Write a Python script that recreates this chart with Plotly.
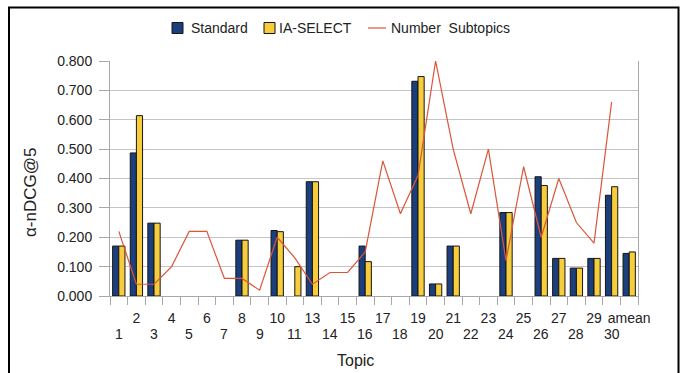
import plotly.graph_objects as go

# ---- data ----
topics = ["1", "2", "3", "4", "5", "6", "7", "8", "9", "10", "11", "13", "14", "15",
          "16", "17", "18", "19", "20", "21", "22", "23", "24", "25", "26", "27",
          "28", "29", "30", "amean"]
standard = [0.170, 0.487, 0.248, None, None, None, None, 0.190, None, 0.223, None,
            0.389, None, None, 0.170, None, None, 0.731, 0.041, 0.170, None, None,
            0.284, None, 0.406, 0.128, 0.095, 0.128, 0.343, 0.145]
ia_select = [0.170, 0.614, 0.248, None, None, None, None, 0.190, None, 0.219, 0.100,
             0.389, None, None, 0.117, None, None, 0.747, 0.041, 0.170, None, None,
             0.284, None, 0.376, 0.128, 0.095, 0.128, 0.372, 0.150]
line_topics = topics[:-1]
subtopics = [0.22, 0.04, 0.04, 0.10, 0.22, 0.22, 0.06, 0.06, 0.02, 0.20, 0.13,
             0.04, 0.08, 0.08, 0.15, 0.46, 0.28, 0.41, 0.80, 0.50, 0.28, 0.50,
             0.12, 0.44, 0.20, 0.40, 0.25, 0.18, 0.66]
y_ticks = [0.0, 0.1, 0.2, 0.3, 0.4, 0.5, 0.6, 0.7, 0.8]

# ---- style ----
NAVY = "#1b3f7d"
YELLOW = "#f7cd3c"
RED = "#dc5539"
GRID = "#c4c4c4"
FONT = "Liberation Sans, Arial, sans-serif"
TXT = "#222222"

W, H = 681, 373
L, R, T, B = 110, 43, 61, 77
PW, PH = W - L - R, H - T - B


def px2x(px):
    return (px - L) / PW


def py2y(py):
    return (H - B - py) / PH


fig = go.Figure()
fig.add_trace(go.Bar(x=topics, y=standard, name="Standard", marker_color=NAVY,
                     marker_line=dict(color="#151515", width=1), showlegend=False))
fig.add_trace(go.Bar(x=topics, y=ia_select, name="IA-SELECT", marker_color=YELLOW,
                     marker_line=dict(color="#151515", width=1), showlegend=False))
fig.add_trace(go.Scatter(x=line_topics, y=subtopics, name="Number Subtopics",
                         mode="lines", line=dict(color=RED, width=1.2), showlegend=False))

upper = [t if i % 2 == 1 else "" for i, t in enumerate(topics)]

fig.update_layout(
    width=W, height=H,
    margin=dict(l=L, r=R, t=T, b=B, pad=0),
    paper_bgcolor="white", plot_bgcolor="white",
    barmode="group", bargap=0.30, bargroupgap=0.0,
    font=dict(family=FONT, size=14, color=TXT),
    xaxis=dict(type="category", categoryorder="array", categoryarray=topics,
               tickvals=topics, ticktext=upper,
               tickson="boundaries", ticks="outside", ticklen=8, tickcolor="#a8a8a8",
               showgrid=False, showline=True, linecolor="#a8a8a8", linewidth=1,
               tickfont=dict(size=14, color=TXT), tickangle=0, ticklabelstandoff=9),
    yaxis=dict(range=[0, 0.8], tickvals=y_ticks, tickformat=".3f",
               ticks="outside", ticklen=10, tickcolor="#a8a8a8",
               showgrid=True, gridcolor=GRID, gridwidth=1,
               showline=True, linecolor="#a8a8a8", linewidth=1, mirror=True,
               zeroline=False, tickfont=dict(size=14, color=TXT), ticklabelstandoff=4),
)

annotations = []
# lower row of staggered category labels (x given as category index)
for i, t in enumerate(topics):
    if i % 2 == 0:
        annotations.append(dict(x=i, xref="x", y=py2y(333.5), yref="paper",
                                text=t, showarrow=False, yanchor="middle",
                                xanchor="center", font=dict(size=14, color=TXT)))
# axis titles
annotations.append(dict(x=px2x(355.5), y=py2y(360), xref="paper", yref="paper",
                        text="Topic", showarrow=False, xanchor="center", yanchor="middle",
                        font=dict(size=16, color=TXT)))
annotations.append(dict(x=px2x(31), y=py2y(193), xref="paper", yref="paper",
                        text="α-nDCG@5", textangle=-90, showarrow=False,
                        xanchor="center", yanchor="middle", font=dict(size=17, color=TXT)))
# legend texts
ly = py2y(28)
for px, txt in [(189, "Standard"), (277, "IA-SELECT"), (389, "Number\u00a0 Subtopics")]:
    annotations.append(dict(x=px2x(px), y=ly, xref="paper", yref="paper", text=txt,
                            showarrow=False, xanchor="left", yanchor="middle",
                            font=dict(size=14, color=TXT)))

shapes = [
    # outer frame
    dict(type="rect", xref="paper", yref="paper", x0=px2x(9), x1=px2x(678.5),
         y0=py2y(385), y1=py2y(7.5), line=dict(color="#000000", width=2),
         fillcolor="rgba(0,0,0,0)", layer="above"),
    # legend symbols
    dict(type="rect", xref="paper", yref="paper", x0=px2x(172), x1=px2x(183),
         y0=py2y(33.5), y1=py2y(22.5), fillcolor=NAVY, line=dict(color="#151515", width=1)),
    dict(type="rect", xref="paper", yref="paper", x0=px2x(264), x1=px2x(275),
         y0=py2y(33.5), y1=py2y(22.5), fillcolor=YELLOW, line=dict(color="#151515", width=1)),
    dict(type="line", xref="paper", yref="paper", x0=px2x(368), x1=px2x(386),
         y0=ly, y1=ly, line=dict(color=RED, width=1.2)),
]

fig.update_layout(annotations=annotations, shapes=shapes)
fig.write_html("out.html")
